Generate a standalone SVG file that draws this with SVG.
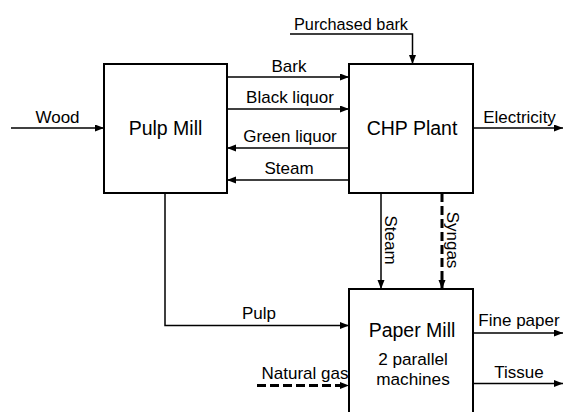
<svg xmlns="http://www.w3.org/2000/svg" width="563" height="412" viewBox="0 0 563 412">
<style>
.box{fill:#fff;stroke:#000;stroke-width:2}
.ln{fill:none;stroke:#000;stroke-width:1.5}
.dash{fill:none;stroke:#000;stroke-width:3;stroke-dasharray:9 4}
text{font-family:"Liberation Sans",Arial,sans-serif;fill:#000}
.lbl{font-size:17px;text-anchor:middle}
.title{font-size:19.5px;text-anchor:middle}
.sub{font-size:17.2px;text-anchor:middle}
</style>
<defs>
<marker id="ah" markerUnits="userSpaceOnUse" markerWidth="10" markerHeight="8" refX="9" refY="3.5" orient="auto">
<path d="M0,0 L9,3.5 L0,7 z" fill="#000"/>
</marker>
</defs>
<rect width="563" height="412" fill="#fff"/>
<g id="pulp-mill">
<rect class="box" x="104" y="64" width="123" height="129"/>
<text class="title" x="165.5" y="135">Pulp Mill</text>
</g>
<g id="chp-plant">
<rect class="box" x="349" y="64" width="124" height="129"/>
<text class="title" x="412" y="135">CHP Plant</text>
</g>
<g id="paper-mill">
<rect class="box" x="349" y="289" width="124" height="130"/>
<text class="title" x="412" y="337">Paper Mill</text>
<text class="sub" x="413" y="365">2 parallel</text>
<text class="sub" x="413" y="384.5">machines</text>
</g>
<g id="connectors">
<line class="ln" x1="11" y1="128" x2="104" y2="128" marker-end="url(#ah)"/>
<text class="lbl" x="57.5" y="123">Wood</text>
<polyline class="ln" points="290,34 412.5,34 412.5,64" marker-end="url(#ah)"/>
<text class="lbl" x="351" y="30" style="font-size:16.3px">Purchased bark</text>
<line class="ln" x1="227" y1="77" x2="349" y2="77" marker-end="url(#ah)"/>
<text class="lbl" x="289" y="71.5">Bark</text>
<line class="ln" x1="227" y1="109" x2="349" y2="109" marker-end="url(#ah)"/>
<text class="lbl" x="290" y="102.5">Black liquor</text>
<line class="ln" x1="349" y1="148" x2="227" y2="148" marker-end="url(#ah)"/>
<text class="lbl" x="290" y="141.5">Green liquor</text>
<line class="ln" x1="349" y1="180" x2="227" y2="180" marker-end="url(#ah)"/>
<text class="lbl" x="289" y="174">Steam</text>
<line class="ln" x1="473" y1="128" x2="563" y2="128" marker-end="url(#ah)"/>
<text class="lbl" x="519.5" y="123">Electricity</text>
<line class="ln" x1="381" y1="193" x2="381" y2="289" marker-end="url(#ah)"/>
<text class="lbl" transform="translate(385,240) rotate(90)">Steam</text>
<line class="dash" x1="442" y1="193" x2="442" y2="289" marker-end="url(#ah)"/>
<text class="lbl" transform="translate(446.5,240) rotate(90)">Syngas</text>
<polyline class="ln" points="165,193 165,325.5 349,325.5" marker-end="url(#ah)"/>
<text class="lbl" x="259" y="319">Pulp</text>
<line class="dash" x1="257" y1="385.5" x2="349" y2="385.5" marker-end="url(#ah)"/>
<text class="lbl" x="305" y="379">Natural gas</text>
<line class="ln" x1="473" y1="333" x2="563" y2="333" marker-end="url(#ah)"/>
<text class="lbl" x="519" y="326">Fine paper</text>
<line class="ln" x1="473" y1="383.5" x2="563" y2="383.5" marker-end="url(#ah)"/>
<text class="lbl" x="519" y="378">Tissue</text>
</g>
</svg>
